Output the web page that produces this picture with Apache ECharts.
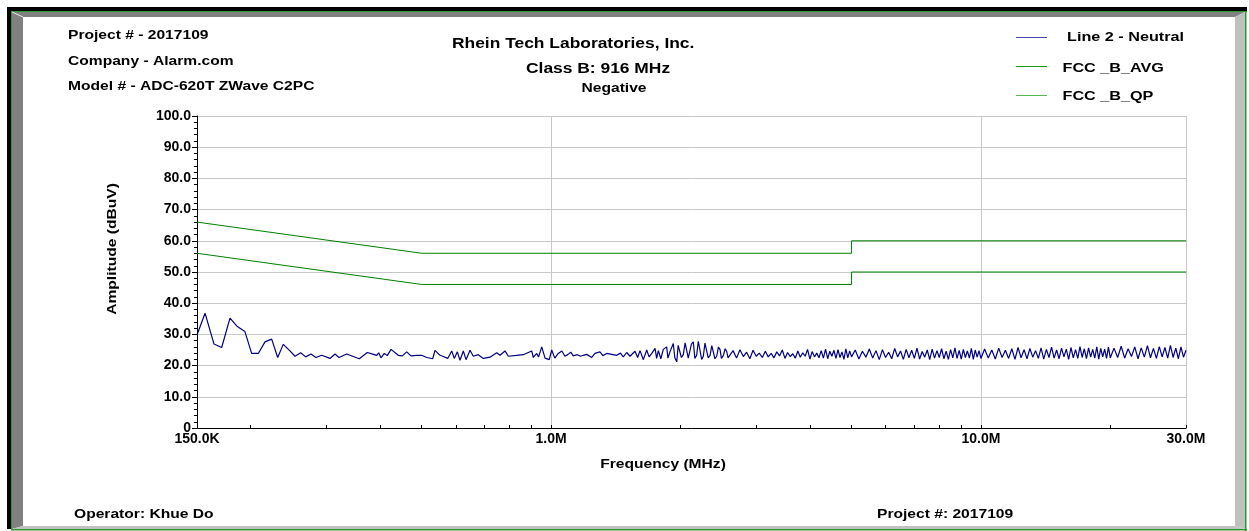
<!DOCTYPE html>
<html>
<head>
<meta charset="utf-8">
<script src="https://cdn.jsdelivr.net/npm/echarts@6/dist/echarts.min.js"></script>
<style>
html,body{margin:0;padding:0;background:#fff;}
#chart{width:1249px;height:531px;}
</style>
</head>
<body>
<div id="chart"></div>
<script>
// ---- data ----
var xTickValues = [0.15, 1, 10, 30];
var xTickLabels = ['150.0K', '1.0M', '10.0M', '30.0M'];
var xGridValues = [1, 10, 30];
var xMinorTicks = [0.15,0.2,0.3,0.4,0.5,0.6,0.7,0.8,0.9,1,2,3,4,5,6,7,8,9,10,20,30];
var yTickValues = [0,10,20,30,40,50,60,70,80,90,100];
var yTickLabels = ['0','10.0','20.0','30.0','40.0','50.0','60.0','70.0','80.0','90.0','100.0'];

var headerLines = ['Project # - 2017109', 'Company - Alarm.com', 'Model # - ADC-620T ZWave C2PC'];
var titleLines = ['Rhein Tech Laboratories, Inc.', 'Class B: 916 MHz', 'Negative'];
var seriesNames = ['Line 2 - Neutral', 'FCC _B_AVG', 'FCC _B_QP'];
var footerLeft = 'Operator: Khue Do';
var footerRight = 'Project #: 2017109';

// FCC Class B limits [MHz, dBuV]
var fccAvg = [[0.15,56],[0.5,46],[5,46],[5,50],[30,50]];
var fccQp  = [[0.15,66],[0.5,56],[5,56],[5,60],[30,60]];

// Line 2 - Neutral measured trace [MHz, dBuV]
var neutral = [
[0.150,29.8],[0.1566,36.8],[0.1643,26.9],[0.1712,25.8],[0.1790,35.2],[0.1862,32.5],[0.1939,30.9],[0.2010,23.9],[0.2083,23.9],[0.2159,27.6],
[0.2238,28.5],[0.2311,22.6],[0.2381,26.8],[0.2468,24.7],[0.2536,23.0],[0.2614,24.1],[0.2685,22.8],[0.2762,23.7],[0.2837,22.6],[0.2925,23.3],
[0.3059,22.3],[0.3142,23.7],[0.3210,22.6],[0.3345,23.7],[0.3578,22.2],[0.3735,24.2],[0.3845,23.7],[0.3928,23.3],[0.3970,24.1],[0.4020,22.5],
[0.4092,23.9],[0.4158,23.2],[0.4241,25.2],[0.4410,23.3],[0.4506,23.1],[0.4613,24.4],[0.4721,23.1],[0.4868,23.3],[0.4999,23.3],[0.5135,22.6],
[0.5303,22.2],[0.5368,24.9],[0.5514,23.3],[0.5594,23.0],[0.5747,22.3],[0.5871,24.7],[0.5953,22.3],[0.6050,24.4],[0.6138,21.7],[0.6248,24.7],
[0.6339,21.9],[0.6476,24.9],[0.6591,23.0],[0.6770,23.5],[0.6953,22.3],[0.7208,22.7],[0.7472,24.1],[0.7605,23.3],[0.7811,24.7],[0.7951,23.0],
[0.832,23.3],[0.8616,23.5],[0.9012,24.7],[0.909,22.6],[0.9257,23.9],[0.935,22.8],[0.951,26.0],[0.968,22.4],[0.990,21.9],[1.003,25.0],
[1.020,22.4],[1.039,23.9],[1.059,24.7],[1.077,23.0],[1.095,23.6],[1.111,24.3],[1.126,23.1],[1.150,23.5],[1.170,23.0],[1.188,23.3],
[1.210,23.6],[1.243,22.6],[1.265,23.9],[1.299,24.4],[1.320,23.2],[1.347,23.9],[1.384,23.6],[1.421,23.3],[1.450,24.0],[1.472,22.8],
[1.499,24.2],[1.526,23.0],[1.567,24.6],[1.590,22.6],[1.610,24.8],[1.639,21.9],[1.669,25.0],[1.690,22.8],[1.715,23.9],[1.745,25.5],
[1.760,22.3],[1.776,24.8],[1.800,22.2],[1.824,25.2],[1.857,26.0],[1.870,22.4],[1.890,24.4],[1.924,27.1],[1.940,22.5],[1.960,21.2],
[1.975,26.5],[1.995,26.8],[2.010,22.6],[2.030,23.5],[2.050,27.3],[2.067,27.1],[2.085,22.4],[2.104,24.8],[2.120,26.9],[2.142,27.6],
[2.160,22.3],[2.181,23.3],[2.200,27.8],[2.220,28.2],[2.240,22.0],[2.260,23.0],[2.280,27.2],[2.301,26.9],[2.320,22.5],[2.343,23.3],
[2.365,26.4],[2.385,26.6],[2.405,22.2],[2.428,23.0],[2.450,25.9],[2.472,25.1],[2.490,22.3],[2.516,23.2],[2.540,25.4],[2.562,24.5],
[2.580,22.5],[2.607,23.0],
[2.65,24.8],[2.70,22.4],[2.75,25.1],[2.80,22.9],[2.85,24.3],[2.90,22.2],[2.95,24.9],[3.00,23.0],[3.05,24.0],[3.10,22.6],
[3.15,24.6],[3.20,22.8],[3.25,23.9],[3.30,22.5],[3.35,24.4],[3.40,23.1],[3.45,25.0],[3.50,22.3],[3.55,24.2],[3.60,22.9],
[3.65,23.8],[3.70,22.4],[3.75,24.7],[3.80,22.7],[3.85,24.1],[3.90,23.0],[3.95,25.2],[4.00,22.1],[4.05,24.5],[4.10,22.8],
[4.15,24.0],[4.20,22.5],[4.25,24.8],[4.30,22.4],[4.35,25.3],[4.40,22.2],[4.45,24.6],[4.50,23.0],[4.55,24.9],[4.60,22.3],
[4.65,25.1],[4.70,22.6],[4.75,24.4],[4.80,22.0],[4.85,25.4],[4.90,22.5],[4.95,24.7],[5.00,22.8],
[5.1,25.0],[5.2,22.1],[5.3,24.6],[5.4,22.7],[5.5,25.3],[5.6,22.4],[5.7,24.8],[5.8,21.9],[5.9,25.1],[6.0,22.6],
[6.1,24.3],[6.2,22.2],[6.3,25.5],[6.4,22.8],[6.5,24.7],[6.6,22.0],[6.7,25.2],[6.8,22.5],[6.9,24.9],[7.0,22.3],
[7.1,25.6],[7.2,22.1],[7.3,24.5],[7.4,22.7],[7.5,25.0],[7.6,21.9],[7.7,25.3],[7.8,22.4],[7.9,24.8],[8.0,22.6],
[8.1,25.4],[8.2,22.2],[8.3,24.6],[8.4,22.0],[8.5,25.1],[8.6,22.5],[8.7,25.7],[8.8,22.3],[8.9,24.9],[9.0,22.1],
[9.1,25.2],[9.2,22.6],[9.3,24.7],[9.4,22.4],[9.5,25.5],[9.6,22.0],[9.7,25.0],[9.8,22.7],[9.9,24.8],[10.0,22.3],
[10.2,25.3],[10.4,22.4],[10.6,25.0],[10.8,22.1],[11.0,25.6],[11.2,22.6],[11.4,24.9],[11.6,22.3],[11.8,25.4],[12.0,22.0],
[12.2,25.8],[12.4,22.5],[12.6,25.1],[12.8,22.2],[13.0,25.5],[13.2,22.7],[13.4,24.8],[13.6,22.3],[13.8,25.7],[14.0,22.1],
[14.2,25.2],[14.4,22.6],[14.6,25.9],[14.8,22.4],[15.0,25.0],[15.2,22.2],[15.4,25.6],[15.6,22.8],[15.8,25.3],[16.0,22.0],
[16.2,25.8],[16.4,22.5],[16.6,25.1],[16.8,22.3],[17.0,26.1],[17.2,22.6],[17.4,25.4],[17.6,22.2],[17.8,25.7],[18.0,22.7],
[18.2,25.2],[18.4,22.4],[18.6,26.0],[18.8,22.1],[19.0,25.5],[19.2,22.8],[19.4,25.3],[19.6,22.3],[19.8,25.9],[20.0,22.5],
[20.4,25.6],[20.8,22.6],[21.2,26.2],[21.6,22.4],[22.0,25.4],[22.4,22.9],[22.8,26.0],[23.2,22.2],[23.6,25.7],[24.0,22.7],
[24.4,26.4],[24.8,22.5],[25.2,25.5],[25.6,22.3],[26.0,26.1],[26.4,22.8],[26.8,25.8],[27.2,22.4],[27.6,26.5],[28.0,22.6],
[28.4,25.6],[28.8,22.2],[29.2,26.0],[29.6,22.7],[30.0,24.9]
];

// ---- chart ----
var FONT = '"Liberation Sans", Arial, sans-serif';
var navy = '#000080';
var green = '#008000';
var SX = 1.2;

function txt(x, y, s, size, opts) {
  opts = opts || {};
  return {
    type: 'text', x: x, y: y, scaleX: SX, rotation: opts.rotation || 0, silent: true, z: 10,
    style: {
      text: s, fill: '#000', font: 'bold ' + size + 'px ' + FONT,
      textAlign: opts.align || 'left', textVerticalAlign: 'middle'
    }
  };
}

var graphics = [
  // frame
  { type: 'rect', silent: true, shape: { x: 7, y: 7, width: 1240, height: 4 }, style: { fill: '#000' } },
  { type: 'rect', silent: true, shape: { x: 7, y: 7, width: 4, height: 522 }, style: { fill: '#000' } },
  { type: 'rect', silent: true, shape: { x: 11, y: 11, width: 1, height: 518 }, style: { fill: '#2a9a2a' } },
  { type: 'rect', silent: true, shape: { x: 11, y: 11, width: 1236, height: 1 }, style: { fill: '#2a9a2a' } },
  { type: 'polygon', silent: true, shape: { points: [[12,12],[1245,12],[1235,17],[23,17]] }, style: { fill: '#808080' } },
  { type: 'polygon', silent: true, shape: { points: [[12,12],[23,17],[23,526],[12,529]] }, style: { fill: '#808080' } },
  { type: 'polygon', silent: true, shape: { points: [[1235,17],[1245,12],[1245,529],[1235,526]] }, style: { fill: '#c0c0c0' } },
  { type: 'polygon', silent: true, shape: { points: [[12,529],[23,526],[1235,526],[1245,529]] }, style: { fill: '#c0c0c0' } },
  { type: 'line', silent: true, shape: { x1: 12, y1: 12, x2: 23, y2: 17 }, style: { stroke: '#e8e8e8', lineWidth: 1 } },
  { type: 'rect', silent: true, shape: { x: 1245, y: 11, width: 1.5, height: 520 }, style: { fill: '#2a9a2a' } },
  { type: 'rect', silent: true, shape: { x: 11, y: 529, width: 1236, height: 1.5 }, style: { fill: '#2a9a2a' } },
  // header
  txt(68, 35, headerLines[0], 13),
  txt(68, 61, headerLines[1], 13),
  txt(68, 86, headerLines[2], 13),
  txt(452, 43.5, titleLines[0], 14.5),
  txt(526, 69, titleLines[1], 14.5),
  txt(581.5, 88.5, titleLines[2], 13),
  // legend
  { type: 'rect', silent: true, shape: { x: 1016, y: 37, width: 31, height: 1 }, style: { fill: '#4545b0' } },
  { type: 'rect', silent: true, shape: { x: 1016, y: 66, width: 31, height: 1 }, style: { fill: '#219a21' } },
  { type: 'rect', silent: true, shape: { x: 1016, y: 95, width: 31, height: 1 }, style: { fill: '#55b855' } },
  txt(1067, 37.5, seriesNames[0], 13.5),
  txt(1062.5, 68, seriesNames[1], 13.5),
  txt(1062.5, 96.5, seriesNames[2], 13.5),
  // axis names
  txt(663, 464, 'Frequency (MHz)', 13, { align: 'center' }),
  txt(112, 249, 'Amplitude (dBuV)', 13, { align: 'center', rotation: Math.PI / 2 }),
  // footer
  txt(74, 514, footerLeft, 13),
  txt(877, 514, footerRight, 13)
];

function xLabel(v) {
  var best = 0, bd = Infinity;
  for (var i = 0; i < xTickValues.length; i++) {
    var d = Math.abs(Math.log(v) - Math.log(xTickValues[i]));
    if (d < bd) { bd = d; best = i; }
  }
  return xTickLabels[best];
}

var chart = echarts.init(document.getElementById('chart'), null, { renderer: 'canvas' });
chart.setOption({
  backgroundColor: '#fff',
  animation: false,
  textStyle: { fontFamily: FONT },
  graphic: graphics,
  grid: { left: 197, right: 63, top: 116, bottom: 103, containLabel: false },
  xAxis: [{
    type: 'log', logBase: 10, min: 0.15, max: 30, position: 'bottom', z: 5,
    axisLine: { show: true, lineStyle: { color: '#000', width: 1 } },
    axisTick: { show: true, inside: true, length: 3, customValues: xMinorTicks, lineStyle: { color: '#000' } },
    minorTick: { show: false },
    axisLabel: {
      show: true, customValues: xTickValues, margin: 4,
      color: '#000', fontWeight: 'bold', fontSize: 14, fontFamily: FONT,
      formatter: xLabel
    },
    splitLine: { show: false }
  }, {
    type: 'log', logBase: 10, min: 0.15, max: 30, position: 'top',
    axisLine: { show: false },
    axisTick: { show: false, customValues: xGridValues },
    axisLabel: { show: false, customValues: xGridValues },
    splitLine: { show: true, lineStyle: { color: '#c8c8c8', width: 1 } }
  }],
  yAxis: {
    type: 'value', min: 0, max: 100, interval: 10,
    axisLine: { show: true, lineStyle: { color: '#000', width: 1 } },
    axisTick: { show: true, length: 5, lineStyle: { color: '#000' } },
    minorTick: { show: true, splitNumber: 5, length: 3, lineStyle: { color: '#000' } },
    axisLabel: {
      margin: 6, color: '#000', fontWeight: 'bold', fontSize: 14, fontFamily: FONT,
      formatter: function (v) {
        var i = yTickValues.indexOf(Math.round(v));
        return i >= 0 ? yTickLabels[i] : '';
      }
    },
    splitLine: { show: true, lineStyle: { color: '#c8c8c8', width: 1 } }
  },
  series: [
    { name: seriesNames[0], type: 'line', data: neutral, showSymbol: false, symbol: 'none', xAxisIndex: 0,
      lineStyle: { color: navy, width: 1.2 }, z: 3 },
    { name: seriesNames[1], type: 'line', data: fccAvg, showSymbol: false, symbol: 'none', xAxisIndex: 0,
      lineStyle: { color: green, width: 1 }, z: 2 },
    { name: seriesNames[2], type: 'line', data: fccQp, showSymbol: false, symbol: 'none', xAxisIndex: 0,
      lineStyle: { color: green, width: 1 }, z: 2 }
  ]
});
</script>
</body>
</html>
